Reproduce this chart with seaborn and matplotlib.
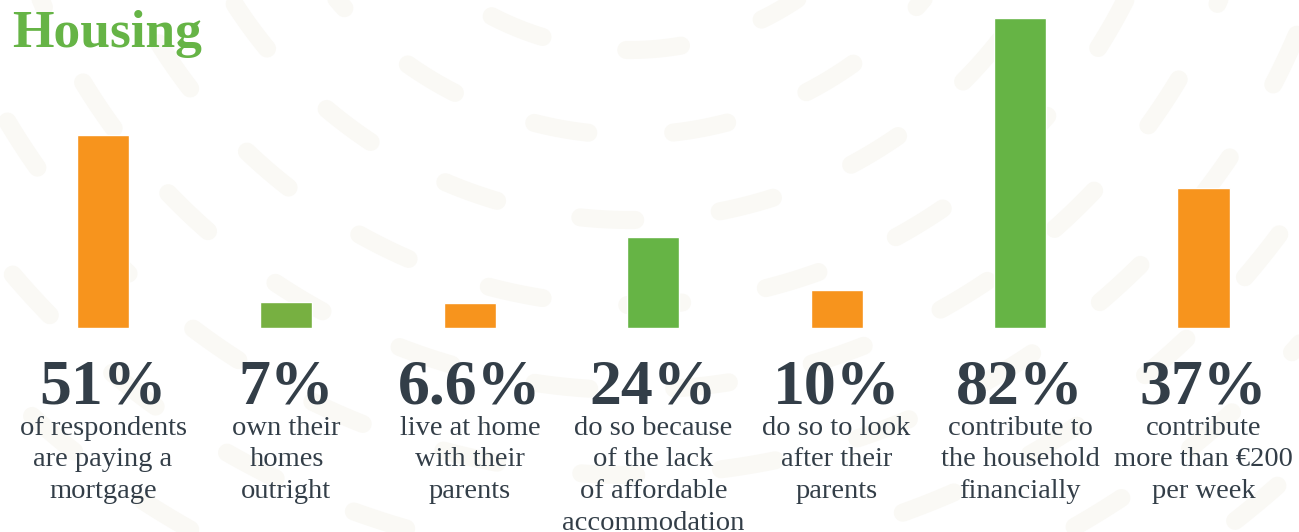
import numpy as np
import matplotlib
matplotlib.use("Agg")
import matplotlib.pyplot as plt
import matplotlib.transforms as mtransforms
import seaborn as sns

# ---- data -------------------------------------------------------------
categories = ["mortgage", "own_outright", "live_at_home", "lack_affordable",
              "look_after_parents", "contribute", "contribute_200"]
values = [51, 7, 6.6, 24, 10, 82, 37]
bar_colors = ["#F7941D", "#77B041", "#F7941D", "#66B445",
              "#F7941D", "#66B445", "#F7941D"]
descriptions = [
    ["of respondents", "are paying a", "mortgage"],
    ["own their", "homes", "outright"],
    ["live at home", "with their", "parents"],
    ["do so because", "of the lack", "of affordable", "accommodation"],
    ["do so to look", "after their", "parents"],
    ["contribute to", "the household", "financially"],
    ["contribute", "more than €200", "per week"],
]
title = "Housing"

# ---- styling ----------------------------------------------------------
sns.set_style("white")
plt.rcParams["font.family"] = ["Liberation Serif", "DejaVu Serif"]
TEXT = "#333E48"
GREEN = "#66B446"
DASH = "#FAF9F5"

W, H = 1299, 532
fig = plt.figure(figsize=(W / 100, H / 100), dpi=100)
fig.patch.set_facecolor("white")

# ---- decorative background: dashes laid along concentric arcs ----------
bg = fig.add_axes([0, 0, 1, 1], zorder=0)
bg.set_xlim(0, W)
bg.set_ylim(H, 0)
bg.axis("off")
cx, cy = 630, -250
dash_len, period = 55, 140
for k, r in enumerate(np.arange(300, 1120, 85)):
    offset = ((k * 0.618) % 1.0) * period / r
    n = int(2 * np.pi * r / period)
    for j in range(n):
        t0 = offset + j * period / r
        t = np.linspace(t0, t0 + dash_len / r, 12)
        xs = cx + r * np.cos(t)
        ys = cy + r * np.sin(t)
        xm, ym = xs.mean(), ys.mean()
        if -30 < xm < W + 30 and -30 < ym < H + 30:
            bg.plot(xs, ys, color=DASH, lw=13, solid_capstyle="round")

# ---- bars -------------------------------------------------------------
step = 183.42
first_center = 103
left_px = first_center - 0.5 * step
right_px = first_center + 6.5 * step
base_px, top_px = 328, 18
ax = fig.add_axes([left_px / W, (H - base_px) / H,
                   (right_px - left_px) / W, (base_px - top_px) / H], zorder=1)
ax.patch.set_alpha(0)
sns.barplot(x=categories, y=values, hue=categories, palette=bar_colors,
            width=0.284, dodge=False, legend=False, saturation=1, ax=ax)
ax.set_xlim(-0.5, len(categories) - 0.5)
ax.set_ylim(0, max(values))
ax.axis("off")

# ---- value labels and descriptions -------------------------------------
trans = mtransforms.blended_transform_factory(ax.transData, fig.transFigure)
for i, (v, desc) in enumerate(zip(values, descriptions)):
    ax.text(i, (H - 403) / H, f"{v:g}%", transform=trans, ha="center",
            va="baseline", fontsize=46, fontweight="bold", color=TEXT)
    for j, line in enumerate(desc):
        ax.text(i, (H - (435 + 31.5 * j)) / H, line, transform=trans,
                ha="center", va="baseline", fontsize=20.5, color=TEXT)

fig.text(12 / W, (H - 47) / H, title, ha="left", va="baseline",
         fontsize=38.5, fontweight="bold", color=GREEN)

fig.savefig("out.png", dpi=100, facecolor="white")
